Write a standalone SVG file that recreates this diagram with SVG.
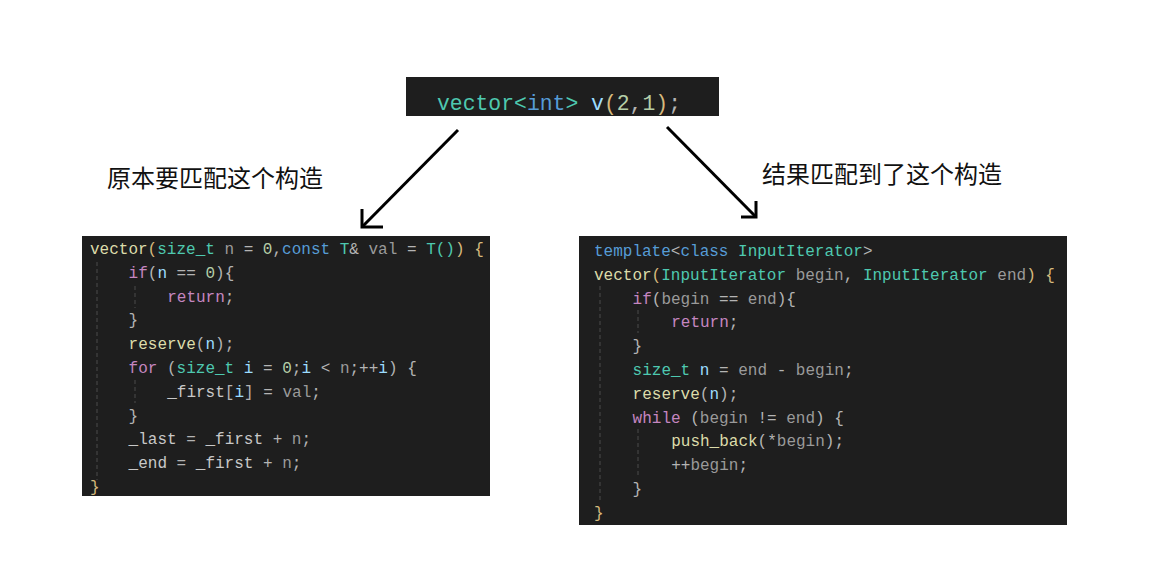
<svg xmlns="http://www.w3.org/2000/svg" width="1156" height="572" viewBox="0 0 1156 572">
<style>
.box{fill:#1e1e1e}
.code{font-family:"Liberation Mono","DejaVu Sans Mono",monospace;font-size:16px;fill:#b4b4b4}
.big{font-family:"Liberation Mono","DejaVu Sans Mono",monospace;font-size:21.4px;fill:#b4b4b4}
.label{font-family:"Noto Sans CJK SC","Noto Sans",sans-serif;font-size:24px;fill:#111111}
.fn{fill:#dcdcaa}.ty{fill:#4ec9b0}.kw{fill:#569cd6}.ct{fill:#c586c0}.pa{fill:#9a9a9a}.va{fill:#9cdcfe}.nu{fill:#b5cea8}.br{fill:#d7ba7d}.pl{fill:#c8c8c8}
.guide{stroke:#4a4a4a;stroke-width:1;stroke-dasharray:4 3;fill:none}
.conn{stroke:#000;stroke-width:3;fill:none}
</style>
<rect x="0" y="0" width="1156" height="572" fill="#ffffff"/>

<g id="call">
<rect class="box" x="406" y="77" width="313" height="39"/>
<text class="big" x="437" y="110" xml:space="preserve"><tspan class="ty">vector</tspan><tspan class="ty">&lt;</tspan><tspan class="kw">int</tspan><tspan class="ty">&gt;</tspan> <tspan class="va">v</tspan><tspan class="br">(</tspan><tspan class="nu">2</tspan>,<tspan class="nu">1</tspan><tspan class="br">)</tspan>;</text>
</g>

<g id="label-left">
<text class="label" x="107" y="187">原本要匹配这个构造</text>
</g>
<g id="label-right">
<text class="label" x="762" y="183">结果匹配到了这个构造</text>
</g>

<g id="ctor-fill">
<rect class="box" x="82" y="236" width="408" height="260"/>
<line class="guide" x1="97" y1="262" x2="97" y2="480"/>
<line class="guide" x1="135" y1="286" x2="135" y2="308"/>
<line class="guide" x1="135" y1="380" x2="135" y2="403"/>
<text class="code" xml:space="preserve">
<tspan x="90" y="254"><tspan class="fn">vector</tspan><tspan class="br">(</tspan><tspan class="ty">size_t</tspan> <tspan class="pa">n</tspan> = <tspan class="nu">0</tspan>,<tspan class="kw">const</tspan> <tspan class="ty">T</tspan>&amp; <tspan class="pa">val</tspan> = <tspan class="ty">T</tspan><tspan class="ty">()</tspan><tspan class="br">)</tspan> <tspan class="br">{</tspan></tspan>
<tspan x="128.6" y="277.8"><tspan class="ct">if</tspan>(<tspan class="va">n</tspan> == <tspan class="nu">0</tspan>){</tspan>
<tspan x="167.2" y="301.6"><tspan class="ct">return</tspan>;</tspan>
<tspan x="128.6" y="325.4">}</tspan>
<tspan x="128.6" y="349.2"><tspan class="fn">reserve</tspan>(<tspan class="va">n</tspan>);</tspan>
<tspan x="128.6" y="373"><tspan class="ct">for</tspan> (<tspan class="ty">size_t</tspan> <tspan class="va">i</tspan> = <tspan class="nu">0</tspan>;<tspan class="va">i</tspan> &lt; <tspan class="pa">n</tspan>;++<tspan class="va">i</tspan>) {</tspan>
<tspan x="167.2" y="396.8"><tspan class="pl">_first</tspan>[<tspan class="va">i</tspan>] = <tspan class="pa">val</tspan>;</tspan>
<tspan x="128.6" y="420.6">}</tspan>
<tspan x="128.6" y="444.4"><tspan class="pl">_last</tspan> = <tspan class="pl">_first</tspan> + <tspan class="pa">n</tspan>;</tspan>
<tspan x="128.6" y="468.2"><tspan class="pl">_end</tspan> = <tspan class="pl">_first</tspan> + <tspan class="pa">n</tspan>;</tspan>
<tspan x="90" y="492"><tspan class="br">}</tspan></tspan>
</text>
</g>

<g id="ctor-range">
<rect class="box" x="579" y="236" width="488" height="289"/>
<line class="guide" x1="600" y1="286" x2="600" y2="500"/>
<line class="guide" x1="638" y1="310" x2="638" y2="333"/>
<line class="guide" x1="638" y1="429" x2="638" y2="477"/>
<text class="code" xml:space="preserve">
<tspan x="594" y="256"><tspan class="kw">template</tspan>&lt;<tspan class="kw">class</tspan> <tspan class="ty">InputIterator</tspan>&gt;</tspan>
<tspan x="594" y="279.8"><tspan class="fn">vector</tspan><tspan class="br">(</tspan><tspan class="ty">InputIterator</tspan> <tspan class="pa">begin</tspan>, <tspan class="ty">InputIterator</tspan> <tspan class="pa">end</tspan><tspan class="br">)</tspan> <tspan class="br">{</tspan></tspan>
<tspan x="632.6" y="303.6"><tspan class="ct">if</tspan>(<tspan class="pa">begin</tspan> == <tspan class="pa">end</tspan>){</tspan>
<tspan x="671.2" y="327.4"><tspan class="ct">return</tspan>;</tspan>
<tspan x="632.6" y="351.2">}</tspan>
<tspan x="632.6" y="375"><tspan class="ty">size_t</tspan> <tspan class="va">n</tspan> = <tspan class="pa">end</tspan> - <tspan class="pa">begin</tspan>;</tspan>
<tspan x="632.6" y="398.8"><tspan class="fn">reserve</tspan>(<tspan class="va">n</tspan>);</tspan>
<tspan x="632.6" y="422.6"><tspan class="ct">while</tspan> (<tspan class="pa">begin</tspan> != <tspan class="pa">end</tspan>) {</tspan>
<tspan x="671.2" y="446.4"><tspan class="fn">push_back</tspan>(*<tspan class="pa">begin</tspan>);</tspan>
<tspan x="671.2" y="470.2">++<tspan class="pa">begin</tspan>;</tspan>
<tspan x="632.6" y="494">}</tspan>
<tspan x="594" y="517.8"><tspan class="br">}</tspan></tspan>
</text>
</g>

<g id="connectors">
<path class="conn" d="M458,130 L363,226"/>
<path class="conn" d="M362,209 L362,227 L383,227"/>
<path class="conn" d="M667,127 L755,216"/>
<path class="conn" d="M741,217 L756,217 L756,201"/>
</g>
</svg>
